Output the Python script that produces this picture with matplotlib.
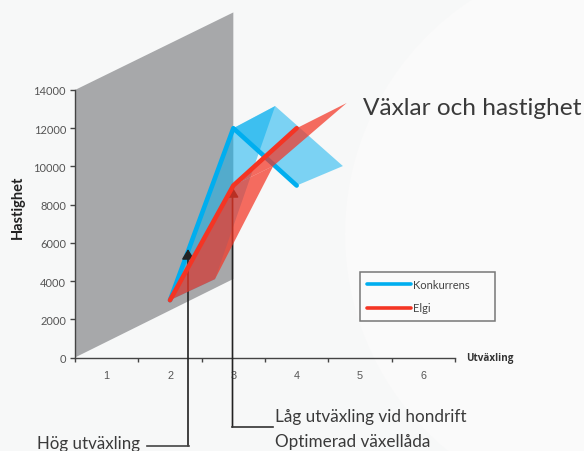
import matplotlib
matplotlib.use('Agg')
import matplotlib.pyplot as plt
from matplotlib.patches import Polygon, Circle

# data
vaxlar = [2, 3, 4]
konkurrens = [3000, 12000, 9000]
elgi = [3000, 9000, 12000]
tick_labels = ['1', '2', '3', '4', '5', '6']
tick_pos = [1, 2, 3, 4, 5, 6]
grans = [0.5, 1.5, 2.5, 3.5, 4.5, 5.5, 6.5]
y_ticks = [0, 2000, 4000, 6000, 8000, 10000, 12000, 14000]

# the "3d" depth of each series
konkurrens_bak_x = [2.71, 3.66, 4.73]
konkurrens_bak_y = [4100, 13160, 10020]
elgi_bak_x = [2.71, 3.63, 4.79]
elgi_bak_y = [4100, 10020, 13320]
vagg_x = [0.5, 0.5, 3.0, 3.0]
vagg_y = [0, 14000, 18060, 4110]

BLA = '#00aeef'
ROD = '#f43524'
GRA = '#555555'
W, H = 584, 452

fig = plt.figure(figsize=(W / 100, H / 100), dpi=100, facecolor='#f7f8f8')
bg = Circle((625, H - 235), 280, transform=None, facecolor='#fafafa', edgecolor='none', zorder=-5)
fig.add_artist(bg)

ax = fig.add_axes([75 / W, 1 - 358.5 / H, 380 / W, 267.5 / H], zorder=1)
ax.patch.set_alpha(0)
ax.set_xlim(0.5, 6.5)
ax.set_ylim(0, 14000)
for s in ['top', 'right']:
    ax.spines[s].set_visible(False)
for s in ['left', 'bottom']:
    ax.spines[s].set_color('#444444')
    ax.spines[s].set_linewidth(1.0)

ax.set_xticks(grans)
ax.set_xticklabels([])
ax.set_xticks(tick_pos, minor=True)
ax.set_xticklabels(tick_labels, minor=True, family='Liberation Sans', fontsize=7.8, color=GRA)
ax.tick_params(axis='x', which='major', length=3, width=1, color='#444444')
ax.tick_params(axis='x', which='minor', length=0, pad=9)
ax.set_yticks(y_ticks)
ax.set_yticklabels([str(v) for v in y_ticks], family='Lato', fontsize=8, color=GRA)
ax.tick_params(axis='y', length=3.5, width=1, color='#444444', pad=3)

ax.add_patch(Polygon(list(zip(vagg_x, vagg_y)), facecolor='#a7a8aa', edgecolor='none', clip_on=False, zorder=1))

# blue facets
for i in range(2):
    fx = [vaxlar[i], vaxlar[i + 1], konkurrens_bak_x[i + 1], konkurrens_bak_x[i]]
    fy = [konkurrens[i], konkurrens[i + 1], konkurrens_bak_y[i + 1], konkurrens_bak_y[i]]
    ax.add_patch(Polygon(list(zip(fx, fy)), facecolor=BLA, alpha=0.5, edgecolor='none', clip_on=False, zorder=2))
ax.plot(vaxlar, konkurrens, color=BLA, lw=3.3, solid_joinstyle='round', solid_capstyle='round',
        clip_on=False, zorder=3, label='Konkurrens')

# arrows
ax.annotate('', xy=(188, H - 250), xycoords='figure pixels', xytext=(188, H - 447), textcoords='figure pixels',
            arrowprops=dict(arrowstyle='-|>,head_length=0.6,head_width=0.36', color='#222222', lw=1.2,
                            shrinkA=0, shrinkB=0), zorder=4)
ax.annotate('', xy=(232.5, H - 188), xycoords='figure pixels', xytext=(232.5, H - 428), textcoords='figure pixels',
            arrowprops=dict(arrowstyle='-|>,head_length=0.6,head_width=0.36', color='#222222', lw=1.2,
                            shrinkA=0, shrinkB=0), zorder=4)
fig.add_artist(plt.Line2D([147 / W, 188.5 / W], [1 - 447 / H] * 2, color='#444444', lw=1.2))
fig.add_artist(plt.Line2D([232 / W, 273 / W], [1 - 428 / H] * 2, color='#333333', lw=1.2))

# red facets
for i in range(2):
    fx = [vaxlar[i], vaxlar[i + 1], elgi_bak_x[i + 1], elgi_bak_x[i]]
    fy = [elgi[i], elgi[i + 1], elgi_bak_y[i + 1], elgi_bak_y[i]]
    ax.add_patch(Polygon(list(zip(fx, fy)), facecolor=ROD, alpha=0.72, edgecolor='none', clip_on=False, zorder=5))
ax.plot(vaxlar, elgi, color=ROD, lw=3.3, solid_joinstyle='round', solid_capstyle='round',
        clip_on=False, zorder=6, label='Elgi')

leg = ax.legend(loc='upper left', bbox_to_anchor=(360 / W, 1 - 318 / H, 135 / W, 45.5 / H),
                bbox_transform=fig.transFigure, mode='expand',
                frameon=True, fancybox=False, facecolor='none', edgecolor='#777777', ncol=1, borderaxespad=0,
                handlelength=3.9, handletextpad=0.2, labelspacing=1.15, borderpad=0.65,
                prop={'family': 'Lato', 'size': 8})
leg.get_frame().set_linewidth(1.1)
leg.get_frame().set_alpha(None)
leg.set_zorder(7)
for line in leg.get_lines():
    line.set_linewidth(2.6)
for t in leg.get_texts():
    t.set_color('#444444')

fig.text(18 / W, 1 - 207 / H, 'Hastighet', rotation=90, ha='center', va='center',
         family='Lato', fontweight='bold', fontsize=10.5, color='#222222')
fig.text(466 / W, 1 - 359 / H, 'Utväxling', ha='left', va='center',
         family='Open Sans', fontweight='bold', fontsize=7.1, color='#333333')
fig.text(363 / W, 1 - 115 / H, 'Växlar och hastighet', ha='left', va='baseline',
         family='Lato', fontsize=17.6, color='#3a3a3a')
fig.text(275 / W, 1 - 422 / H, 'Låg utväxling vid hondrift', ha='left', va='baseline',
         family='Lato', fontsize=12.3, color='#3a3a3a')
fig.text(275 / W, 1 - 447 / H, 'Optimerad växellåda', ha='left', va='baseline',
         family='Lato', fontsize=12.3, color='#3a3a3a')
fig.text(37 / W, 1 - 449 / H, 'Hög utväxling', ha='left', va='baseline',
         family='Lato', fontsize=12.2, color='#3a3a3a')

fig.savefig('out.png', dpi=100, facecolor=fig.get_facecolor())
